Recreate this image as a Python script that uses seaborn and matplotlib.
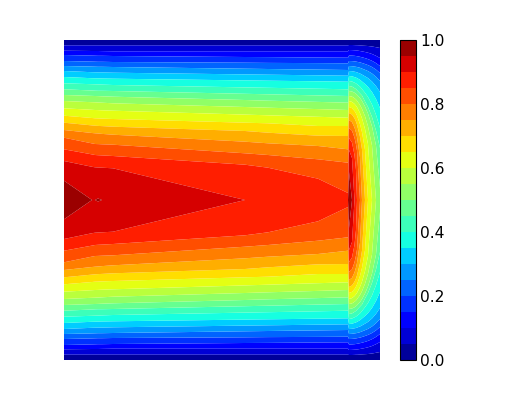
import numpy as np
import matplotlib
matplotlib.use("Agg")
import matplotlib.pyplot as plt
import seaborn as sns

# contour levels of the field
levels = [0.0, 0.05, 0.1, 0.15, 0.2, 0.25, 0.3, 0.35, 0.4, 0.45, 0.5,
          0.55, 0.6, 0.65, 0.7, 0.75, 0.8, 0.85, 0.9, 0.95, 1.0]

# stations along x (0-316) where the contours were read
stations = [0, 28, 31, 34, 38, 49, 181, 204, 254, 284,
            285, 288, 290.5, 292, 293, 296, 298, 301, 304, 308, 312, 316]

# distance from the wall (0-160, centre line = 160) at which each level is
# reached, one list per station, levels 0.05 to 1.0
d_0 = [5.3, 10.7, 15, 21, 26, 31, 37, 43.3, 49.3, 55, 61, 68.3, 75.7, 82.7, 90, 97.7, 109.3, 121, 140.7, 160]
d_28 = [5.3, 11, 15.6, 21.6, 26.6, 32.2, 38.2, 44.2, 50.5, 55.9, 62.2, 69.8, 78, 85.4, 93, 103.4, 114.4, 126.8, 160, 160]
d_31 = [5.3, 11, 15.7, 21.7, 26.7, 32.3, 38.3, 44.3, 50.7, 56, 62.3, 70, 78.3, 85.7, 93.3, 104, 115, 127.3, 160, 160]
d_34 = [5.3, 11, 15.8, 21.8, 26.8, 32.4, 38.4, 44.4, 50.8, 56.1, 62.5, 70.1, 78.4, 85.9, 93.5, 104.1, 115.2, 127.5, 158.5, 160]
d_38 = [5.3, 11.1, 15.8, 21.8, 26.8, 32.4, 38.5, 44.6, 50.8, 56.3, 62.7, 70.3, 78.6, 86.1, 93.9, 104.3, 115.4, 127.7, 160, 160]
d_49 = [5.3, 11.3, 16, 22, 27, 32.7, 38.7, 45, 51, 56.7, 63.3, 70.7, 79, 86.7, 94.7, 104.7, 116, 128.3, 160, 160]
d_181 = [5.3, 11.3, 17, 22.7, 28.7, 34.4, 40.4, 47.4, 53.8, 60, 67, 74.6, 82.7, 91, 101.7, 113.3, 124.7, 160, 160, 160]
d_204 = [5.3, 11.3, 17.1, 22.9, 29, 34.7, 40.7, 47.8, 54.3, 60.7, 67.7, 75.3, 83.3, 92.7, 103.3, 115, 127.7, 160, 160, 160]
d_254 = [5.3, 11.3, 17.5, 23.1, 29.6, 35.3, 41.3, 48.7, 55.4, 61.9, 69.1, 76.8, 86, 95.7, 106, 119.3, 138.7, 160, 160, 160]
d_284 = [5.3, 11.3, 17.7, 23.3, 30, 35.7, 41.7, 49.3, 56, 62.7, 70, 77.7, 86, 96, 109.3, 122.7, 153, 160, 160, 160]
d_285 = [5, 10, 15.5, 21, 26, 31, 36, 41, 46, 51, 56, 61, 67, 73, 80, 88, 98, 110, 132, 160]
d_288 = [5, 10.1, 15.6, 21.1, 26.2, 31.2, 36.3, 41.5, 46.6, 51.5, 56.6, 61.9, 68.2, 74.6, 82.2, 90.7, 102.5, 118, 160, 160]
d_290 = [5.1, 10.3, 15.8, 21.4, 26.6, 31.7, 37.1, 42.7, 48.1, 52.7, 58.2, 63.9, 71, 78.3, 87.5, 97.6, 115, 160, 160, 160]
d_292 = [5.2, 10.4, 16, 21.6, 26.8, 32, 37.6, 43.4, 49.1, 53.8, 59.5, 65.7, 73.5, 81.7, 92.6, 104.5, 130, 160, 160, 160]
d_293 = [5.2, 10.5, 16.2, 21.8, 27, 32.4, 38.1, 44.2, 50.2, 54.7, 60.7, 67.1, 75.6, 84.7, 97, 110.6, 160, 160, 160, 160]
d_296 = [5.4, 11, 16.8, 22.4, 27.8, 33.5, 39.8, 46.6, 53.4, 58, 65, 73, 84.2, 96.8, 117.4, 160, 160, 160, 160, 160]
d_298 = [5.6, 11.4, 17.3, 23, 28.6, 34.6, 41.5, 49, 55.5, 60.9, 68.9, 78.3, 92.2, 109.3, 160, 160, 160, 160, 160, 160]
d_301 = [5.8, 12, 18.1, 24, 29.8, 36.3, 44, 52.8, 61.5, 66.5, 76.2, 88.9, 109.8, 160, 160, 160, 160, 160, 160, 160]
d_304 = [6, 12.7, 19.1, 25.1, 31.1, 38.1, 46.9, 57, 67, 73.6, 86.2, 104, 160, 160, 160, 160, 160, 160, 160, 160]
d_308 = [6.5, 14, 20.8, 27, 33.5, 41.5, 52, 64.5, 77, 86.3, 105.5, 160, 160, 160, 160, 160, 160, 160, 160, 160]
d_312 = [7.2, 15.8, 23.1, 29.6, 36.8, 46.1, 59, 74.8, 90.6, 105.5, 160, 160, 160, 160, 160, 160, 160, 160, 160, 160]
d_316 = [8, 18, 26, 33, 41, 52, 68, 88, 108, 148, 160, 160, 160, 160, 160, 160, 160, 160, 160, 160]

profiles = [d_0, d_28, d_31, d_34, d_38, d_49, d_181, d_204, d_254, d_284,
            d_285, d_288, d_290, d_292, d_293, d_296, d_298, d_301, d_304,
            d_308, d_312, d_316]

tick_values = [0.0, 0.2, 0.4, 0.6, 0.8, 1.0]

sns.set_theme(style="white", font="DejaVu Sans")

# the field is symmetric about the centre line
half = np.column_stack([[0.0] + p for p in profiles])
Y = np.vstack([half, 320 - half[-2::-1]])
z_half = np.array(levels)
Z = np.tile(np.concatenate([z_half, z_half[-2::-1]]), (len(stations), 1)).T
X = np.tile(stations, (Y.shape[0], 1))

fig = plt.figure(figsize=(509 / 80, 5), dpi=80)
ax = fig.add_axes([64 / 509, 40 / 400, 316 / 509, 320 / 400])
cs = ax.contourf(X, Y, Z, levels=levels, cmap="jet", antialiased=True)
ax.set_xlim(0, 316)
ax.set_ylim(0, 320)
ax.axis("off")

cax = fig.add_axes([400 / 509, 40 / 400, 16 / 509, 320 / 400])
cbar = fig.colorbar(cs, cax=cax, ticks=tick_values)
cbar.ax.set_yticklabels([f"{t:.1f}" for t in tick_values])
cbar.ax.tick_params(direction="in", length=4, width=0.6, labelsize=14, pad=4,
                    colors="black", right=True, left=False)
cbar.outline.set_edgecolor("black")
cbar.outline.set_linewidth(1.0)

fig.savefig("out.png", dpi=80)
